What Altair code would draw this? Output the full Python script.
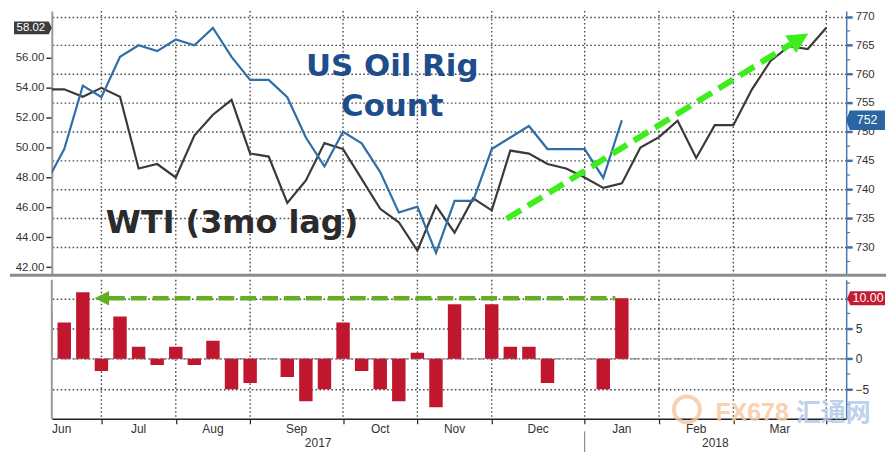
import altair as alt
import pandas as pd

# ---------------- data ----------------
weeks = ["2017-06-09", "2017-06-16", "2017-06-23", "2017-06-30",
         "2017-07-07", "2017-07-14", "2017-07-21", "2017-07-28",
         "2017-08-04", "2017-08-11", "2017-08-18", "2017-08-25",
         "2017-09-01", "2017-09-08", "2017-09-15", "2017-09-22", "2017-09-29",
         "2017-10-06", "2017-10-13", "2017-10-20", "2017-10-27",
         "2017-11-03", "2017-11-10", "2017-11-17", "2017-11-24",
         "2017-12-01", "2017-12-08", "2017-12-15", "2017-12-22", "2017-12-29",
         "2018-01-05", "2018-01-12", "2018-01-19", "2018-01-26",
         "2018-02-02", "2018-02-09", "2018-02-16", "2018-02-23",
         "2018-03-02", "2018-03-09", "2018-03-16", "2018-03-23", "2018-03-30"]

wti_3mo_lag = [53.9, 53.9, 53.4, 54.0, 53.4, 48.6, 48.9, 48.0,
               50.8, 52.2, 53.2, 49.6, 49.4, 46.3, 47.8, 50.3, 49.9,
               47.9, 45.9, 45.0, 43.1, 46.1, 44.3, 46.6, 45.8,
               49.8, 49.6, 48.9, 48.6, 48.0, 47.3, 47.6, 50.0, 50.7,
               51.8, 49.3, 51.5, 51.5, 53.9, 55.8, 56.8, 56.6, 58.02]

us_oil_rigs = [741, 747, 758, 756, 763, 765, 764, 766,
               765, 768, 763, 759, 759, 756, 749, 744, 750,
               748, 743, 736, 737, 729, 738, 738, 747,
               749, 751, 747, 747, 747, 742, 752]

rig_change = [8, 6, 11, -2, 7, 2, -1, 2,
              -1, 3, -5, -4, 0, -3, -7, -5, 6,
              -2, -5, -7, 1, -8, 9, 0, 9,
              2, 2, -4, 0, 0, -5, 10]

month_names = ["Jun", "Jul", "Aug", "Sep", "Oct", "Nov", "Dec", "Jan", "Feb", "Mar"]
month_label_pos = [0.86, 5, 9, 13.5, 18, 22, 26.5, 31, 35, 39.5]
year_names = ["2017", "2018"]
year_label_pos = [14.66, 36.03]
year_split = [29]

left_ticks = [42, 44, 46, 48, 50, 52, 54, 56]
right_ticks = [730, 735, 740, 745, 750, 755, 760, 765, 770]
right_minor = [727.5, 732.5, 737.5, 742.5, 747.5, 752.5, 757.5, 762.5, 767.5]
bar_ticks = [-5, 0, 5, 10]
bar_minor = [-7.5, -2.5, 2.5, 7.5, 12.5]

# annotation arrows, in data units (week index, axis value)
rise_arrow_i = [24.8, 40.08]
rise_arrow_v = [734.9, 765.18]
rise_head_i = [40.44]
rise_head_v = [765.89]
flat_arrow_i = [3.40, 30.65]
flat_arrow_v = [10, 10]
flat_head_i = [3.12]
flat_head_v = [10]

last_wti = [wti_3mo_lag[-1]]
last_rigs = [us_oil_rigs[-1]]
last_change = [rig_change[-1]]

title_rigs = ["US Oil Rig\nCount"]
title_wti = ["WTI (3mo lag)"]

# month boundaries = last weekly point of each month
boundaries = [k for k in range(len(weeks))
              if k == len(weeks) - 1 or weeks[k][5:7] != weeks[k + 1][5:7]]

# ---------------- frames ----------------
df_wti = pd.DataFrame({"i": list(range(len(wti_3mo_lag))), "v": wti_3mo_lag})
df_rig = pd.DataFrame({"i": list(range(len(us_oil_rigs))), "v": us_oil_rigs})
df_chg = pd.DataFrame({"i": list(range(len(rig_change))), "v": rig_change})
df_bound = pd.DataFrame({"i": boundaries})
df_months = pd.DataFrame({"i": month_label_pos, "t": month_names})
df_years = pd.DataFrame({"i": year_label_pos, "t": year_names})
df_split = pd.DataFrame({"i": year_split})
df_rise = pd.DataFrame({"i": rise_arrow_i, "v": rise_arrow_v})
df_rise_head = pd.DataFrame({"i": rise_head_i, "v": rise_head_v})
df_flat = pd.DataFrame({"i": flat_arrow_i, "v": flat_arrow_v})
df_flat_head = pd.DataFrame({"i": flat_head_i, "v": flat_head_v})
df_one = pd.DataFrame({"a": [0]})

# ---------------- style ----------------
FONT = "Liberation Sans"
TFONT = "DejaVu Sans"
W, H_TOP, H_BOT = 798, 265.5, 139.7
GRID = "#1e1e1e"
DOT = [1.6, 2.4]
GW = 1.4
AXBLUE = "#4a7bb0"

TAG_RIGHT = "M-1,-0.34 L0.84,-0.34 L1,0 L0.84,0.34 L-1,0.34 Z"
TAG_LEFT = "M-1,0 L-0.82,-0.5 L1,-0.5 L1,0.5 L-0.82,0.5 Z"
TAG_LEFT_SM = "M-1,0 L-0.84,-0.37 L1,-0.37 L1,0.37 L-0.84,0.37 Z"
ARROW = "M0,-1 L0.8,0.6 L-0.8,0.6 Z"

x_scale = alt.Scale(domain=[0.33, 43.07], nice=False, zero=False, padding=0)
left_scale = alt.Scale(domain=[41.447, 59.147], nice=False, zero=False)
right_scale = alt.Scale(domain=[725.1, 770.95], nice=False, zero=False)
bar_scale = alt.Scale(domain=[-9.9, 13.04], nice=False, zero=False)

X_top = alt.X("i:Q", scale=x_scale, axis=None)
left_axis = alt.Axis(orient="left", values=left_ticks, format=".2f", grid=False, title=None,
                     tickSize=6, tickWidth=1.5, tickColor="#333333",
                     domainColor="#9a9a9a", domainWidth=2,
                     labelFont=FONT, labelFontSize=11.5, labelColor="#333333", labelPadding=2)
Y_left = alt.Y("v:Q", scale=left_scale, axis=left_axis)
right_axis = alt.Axis(orient="right", values=right_ticks, grid=True, gridColor=GRID,
                      gridDash=DOT, gridWidth=GW, gridOpacity=0.8, title=None,
                      tickSize=6, tickWidth=2.5, tickColor="#3f6fa6",
                      domainColor=AXBLUE, domainWidth=1.5,
                      labelFont=FONT, labelFontSize=11.5, labelColor="#333333", labelPadding=3)
Y_right = alt.Y("v:Q", scale=right_scale, axis=right_axis)

# ---------------- top panel ----------------
vgrid_top = alt.Chart(df_bound).mark_rule(color=GRID, strokeWidth=GW, strokeDash=DOT, opacity=0.8).encode(x=X_top)
wti_line = alt.Chart(df_wti).mark_line(color="#3a3a3a", strokeWidth=2.2, clip=True).encode(x=X_top, y=Y_left)
wti_tag = alt.Chart(pd.DataFrame({"v": last_wti})).mark_point(
    shape=TAG_RIGHT, size=1444, filled=True, fill="#3c3c3c", opacity=1, strokeWidth=0
).encode(x=alt.value(-19), y=Y_left)
wti_tag_text = alt.Chart(pd.DataFrame({"v": last_wti})).mark_text(
    font=FONT, fontSize=11.5, color="white", align="center", baseline="middle"
).encode(x=alt.value(-21), y=Y_left, text=alt.Text("v:Q", format=".2f"))
wti_title = alt.Chart(pd.DataFrame({"t": title_wti})).mark_text(
    font=TFONT, fontSize=32, fontWeight="bold", color="#2b2b2b", align="center", baseline="alphabetic"
).encode(x=alt.value(181), y=alt.value(222.8), text="t:N")

rig_line = alt.Chart(df_rig).mark_line(color="#2f6ea6", strokeWidth=2.2, clip=True).encode(x=X_top, y=Y_right)
rig_minor = alt.Chart(pd.DataFrame({"v": right_minor})).mark_rule(color=AXBLUE, strokeWidth=1.2).encode(
    y=Y_right, x=alt.value(W), x2=alt.value(W + 4))
rig_title = alt.Chart(pd.DataFrame({"t": title_rigs})).mark_text(
    font=TFONT, fontSize=31, fontWeight="bold", color="#1e4d8b", align="center",
    baseline="alphabetic", lineBreak="\n", lineHeight=40
).encode(x=alt.value(342), y=alt.value(65.5), text="t:N")
rise_arrow = alt.Chart(df_rise).mark_line(
    color="#3ded1c", strokeWidth=6, strokeDash=[17, 8], strokeCap="butt"
).encode(x=X_top, y=Y_right)
rise_head = alt.Chart(df_rise_head).mark_point(
    shape=ARROW, size=676, angle=58.6, filled=True, fill="#3ded1c", opacity=1, strokeWidth=0
).encode(x=X_top, y=Y_right)
rig_tag = alt.Chart(pd.DataFrame({"v": last_rigs})).mark_point(
    shape=TAG_LEFT, size=1521, filled=True, fill="#2b66a3", opacity=1, strokeWidth=0
).encode(x=alt.value(817.5), y=Y_right)
rig_tag_text = alt.Chart(pd.DataFrame({"v": last_rigs})).mark_text(
    font=FONT, fontSize=12.5, color="white", align="center", baseline="middle"
).encode(x=alt.value(819), y=Y_right, text=alt.Text("v:Q", format="d"))
separator = alt.Chart(df_one).mark_rule(color="#8c8c8c", strokeWidth=3).encode(
    x=alt.value(-42), x2=alt.value(838), y=alt.value(H_TOP))

top_left = alt.layer(vgrid_top, wti_line, wti_tag, wti_tag_text, wti_title)
top_right = alt.layer(rig_minor, rig_line, rig_title, rise_arrow, rise_head, rig_tag, rig_tag_text, separator)
top = alt.layer(top_left, top_right).resolve_scale(y="independent").properties(width=W, height=H_TOP)

# ---------------- bottom panel ----------------
X_bot = alt.X("i:Q", scale=x_scale,
              axis=alt.Axis(orient="bottom", values=boundaries, labels=False, grid=False, title=None,
                            tickSize=5, tickWidth=1.2, tickColor="#222222",
                            domainColor="#222222", domainWidth=1.5))
Y_bar = alt.Y("v:Q", scale=bar_scale,
              axis=alt.Axis(orient="right", values=bar_ticks,
                            labelExpr="datum.value == 10 ? '' : datum.label",
                            grid=True, gridColor=GRID, gridDash=DOT, gridWidth=GW, gridOpacity=0.8,
                            title=None,
                            tickSize=6, tickWidth=2.5, tickColor="#3f6fa6",
                            domainColor=AXBLUE, domainWidth=1.5,
                            labelFont=FONT, labelFontSize=12, labelColor="#333333", labelPadding=3))

vgrid_bot = alt.Chart(df_bound).mark_rule(color=GRID, strokeWidth=GW, strokeDash=DOT, opacity=0.8).encode(x=X_bot)
bar_minor_ticks = alt.Chart(pd.DataFrame({"v": bar_minor})).mark_rule(color=AXBLUE, strokeWidth=1.2).encode(
    y=Y_bar, x=alt.value(W), x2=alt.value(W + 4))
zero_line = alt.Chart(pd.DataFrame({"v": [0]})).mark_rule(
    color="#8a8a8a", strokeWidth=1.3, strokeDash=[7, 4]).encode(y=Y_bar)
bars = alt.Chart(df_chg).mark_bar(color="#c0172f", size=13.5, clip=True).encode(
    x=X_bot, y=Y_bar, y2=alt.datum(0))
left_edge = alt.Chart(df_one).mark_rule(color="#9a9a9a", strokeWidth=2).encode(
    x=alt.value(0), y=alt.value(0), y2=alt.value(H_BOT))
flat_arrow = alt.Chart(df_flat).mark_line(
    color="#63ae25", strokeWidth=4.5, strokeDash=[16, 6], strokeCap="butt").encode(x=X_bot, y=Y_bar)
flat_head = alt.Chart(df_flat_head).mark_point(
    shape=ARROW, size=324, angle=270, filled=True, fill="#63ae25", opacity=1, strokeWidth=0
).encode(x=X_bot, y=Y_bar)
chg_tag = alt.Chart(pd.DataFrame({"v": last_change})).mark_point(
    shape=TAG_LEFT_SM, size=1444, filled=True, fill="#c41a33", opacity=1, strokeWidth=0
).encode(x=alt.value(818), y=Y_bar)
chg_tag_text = alt.Chart(pd.DataFrame({"v": last_change})).mark_text(
    font=FONT, fontSize=12.5, color="white", align="center", baseline="middle"
).encode(x=alt.value(820), y=Y_bar, text=alt.Text("v:Q", format=".2f"))
month_text = alt.Chart(df_months).mark_text(
    font=FONT, fontSize=12, color="#333333", align="center", baseline="alphabetic"
).encode(x=X_bot, y=alt.value(H_BOT + 14.5), text="t:N")
year_text = alt.Chart(df_years).mark_text(
    font=FONT, fontSize=12, color="#333333", align="center", baseline="alphabetic"
).encode(x=X_bot, y=alt.value(H_BOT + 28.5), text="t:N")
year_sep = alt.Chart(df_split).mark_rule(color="#777777", strokeWidth=1).encode(
    x=X_bot, y=alt.value(H_BOT + 12.5), y2=alt.value(H_BOT + 35))

wm_ring = alt.Chart(df_one).mark_point(
    shape="circle", size=676, filled=False, stroke="#f5c6a2", strokeWidth=4, opacity=0.8
).encode(x=alt.value(638), y=alt.value(H_BOT - 9.5))
wm_fx = alt.Chart(pd.DataFrame({"t": ["FX678"]})).mark_text(
    font=FONT, fontSize=25, fontWeight="bold", color="#f9c9a3", opacity=0.85,
    align="center", baseline="alphabetic"
).encode(x=alt.value(703.5), y=alt.value(H_BOT + 2.5), text="t:N")
wm_cn = alt.Chart(pd.DataFrame({"t": ["汇通网"]})).mark_text(
    font="Noto Sans CJK SC", fontSize=25, fontWeight="bold", color="#b3c9e8", opacity=0.85,
    align="center", baseline="alphabetic"
).encode(x=alt.value(785), y=alt.value(H_BOT + 2.5), text="t:N")

bottom = alt.layer(
    vgrid_bot, bar_minor_ticks, zero_line, bars, left_edge, flat_arrow, flat_head, chg_tag, chg_tag_text,
    month_text, year_text, year_sep, wm_ring, wm_fx, wm_cn
).properties(width=W, height=H_BOT)

chart = alt.vconcat(top, bottom, spacing=0).properties(
    padding={"left": 0, "right": 0, "top": 0, "bottom": 0}, background="white"
).configure_view(stroke="transparent")

chart.save("out.html", embed_options={"renderer": "svg", "actions": False})
